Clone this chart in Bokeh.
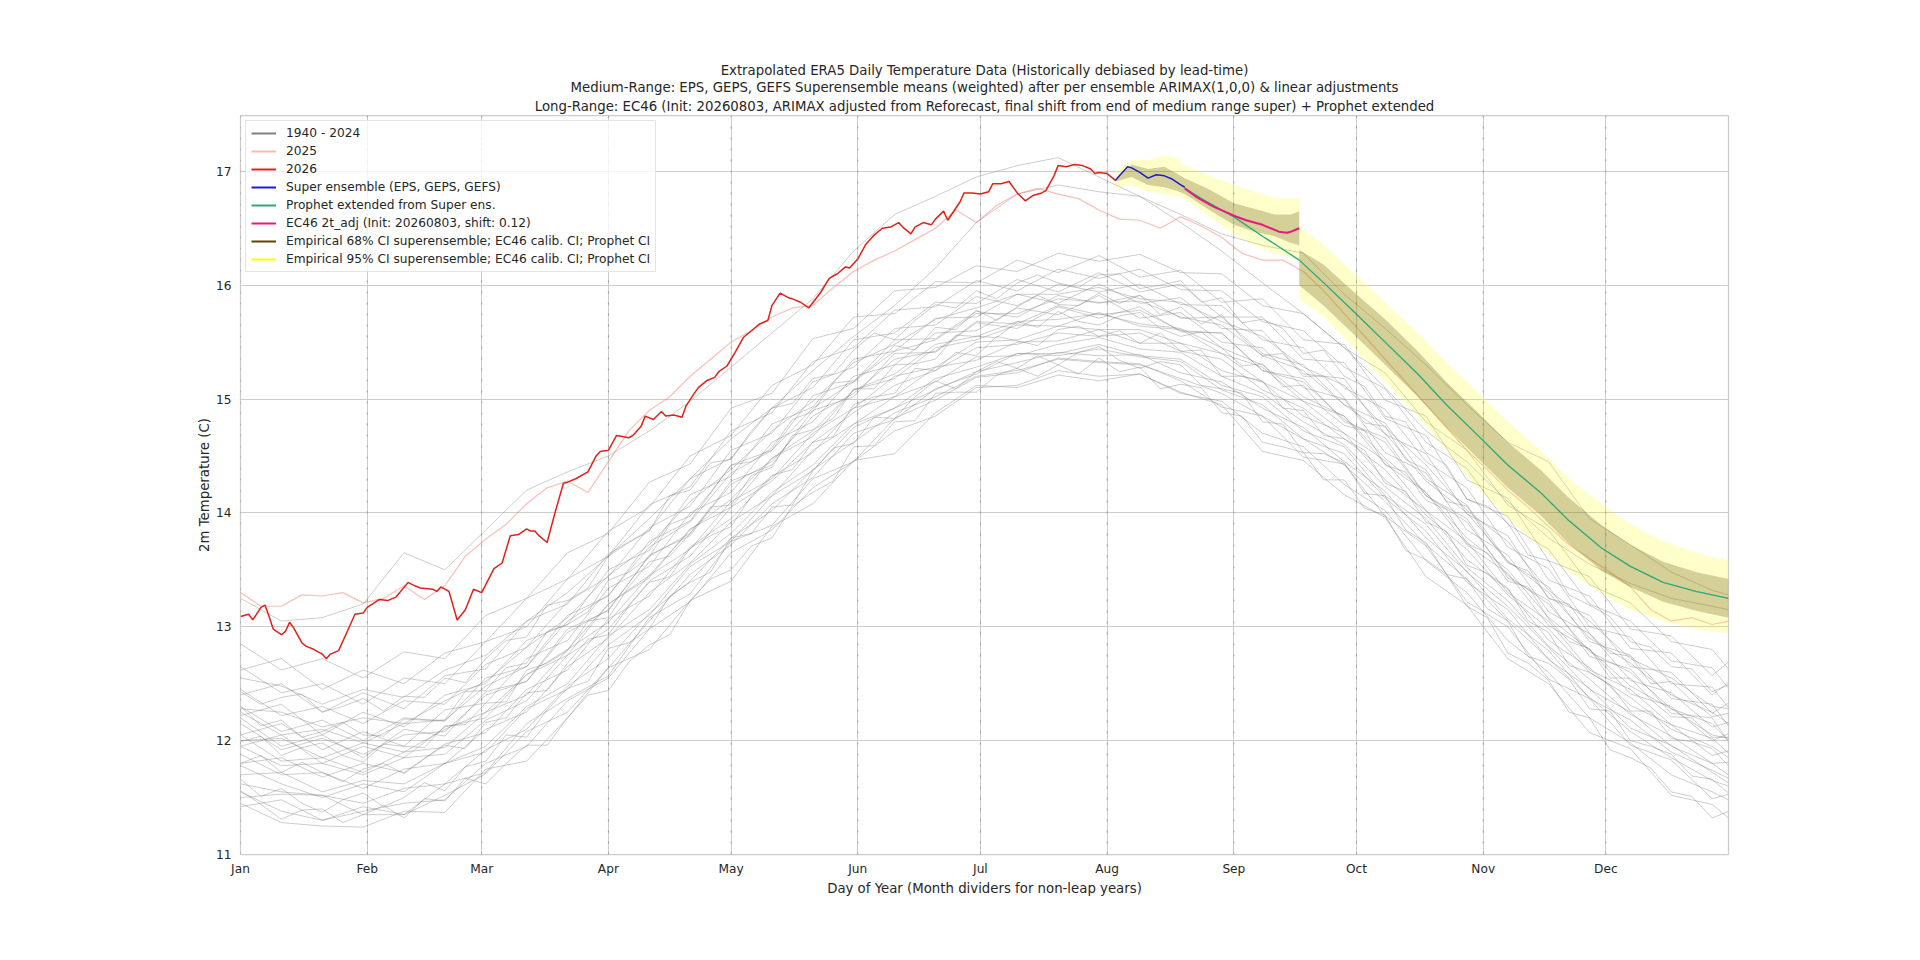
from bokeh.plotting import figure
from bokeh.models import Range1d, FixedTicker, Title, Legend, LegendItem, Span
from bokeh.embed import file_html
from bokeh.resources import INLINE

FONT = "DejaVu Sans"
FS = "12.2px"
FS_BIG = "13.3px"
TXT = "#262626"

TITLE_LINES = [
    "Extrapolated ERA5 Daily Temperature Data (Historically debiased by lead-time)",
    "Medium-Range: EPS, GEPS, GEFS Superensemble means (weighted) after per ensemble ARIMAX(1,0,0) & linear adjustments",
    "Long-Range: EC46 (Init: 20260803, ARIMAX adjusted from Reforecast, final shift from end of medium range super) + Prophet extended",
]
X_LABEL = "Day of Year (Month dividers for non-leap years)"
Y_LABEL = "2m Temperature (C)"

MONTH_DAYS = [0, 31, 59, 90, 120, 151, 181, 212, 243, 273, 304, 334]
MONTH_LABELS = ["Jan", "Feb", "Mar", "Apr", "May", "Jun", "Jul", "Aug", "Sep", "Oct", "Nov", "Dec"]
Y_TICKS = [11, 12, 13, 14, 15, 16, 17]

# ---- historical years 1940-2024 (a readable subset) ----
GREY_DAYS = [0, 10, 20, 30, 40, 50, 60, 70, 80, 90, 100, 110, 120, 130, 140, 150, 160, 170, 180,
             190, 200, 210, 220, 230, 240, 250, 260, 270, 280, 290, 300, 310, 320, 330, 340, 350, 360, 364]
HIST_01 = [11.45,11.28,11.25,11.24,11.38,11.37,11.75,11.82,12.20,12.64,12.80,13.23,13.40,13.88,14.08,14.46,14.52,14.88,15.12,15.10,15.21,15.16,15.22,15.06,14.95,14.54,14.46,14.16,13.96,13.44,13.19,12.72,12.50,12.07,11.93,11.52,11.44,11.32]
HIST_02 = [11.50,11.53,11.52,11.35,11.35,11.62,11.72,12.15,12.37,12.57,13.08,13.29,13.75,13.89,14.30,14.45,14.83,14.99,15.19,15.23,15.36,15.33,15.31,15.16,14.93,14.85,14.49,14.43,13.97,13.71,13.22,13.00,12.54,12.37,11.96,11.83,11.49,11.53]
HIST_03 = [11.55,11.38,11.30,11.42,11.35,11.52,11.71,12.08,12.25,12.64,13.05,13.46,13.72,14.08,14.31,14.70,14.82,15.09,15.22,15.40,15.38,15.44,15.37,15.33,15.08,14.95,14.65,14.52,14.13,13.84,13.39,13.15,12.71,12.46,12.11,11.96,11.72,11.63]
HIST_04 = [11.78,11.62,11.50,11.62,11.55,11.80,11.90,12.28,12.45,12.84,13.10,13.53,13.75,14.15,14.37,14.75,14.92,15.08,15.24,15.32,15.41,15.38,15.39,15.23,15.15,14.92,14.75,14.45,14.19,13.78,13.49,13.07,12.79,12.37,12.18,11.90,11.74,11.67]
HIST_05 = [11.88,11.70,11.72,11.58,11.75,11.80,12.10,12.25,12.65,12.90,13.30,13.56,13.92,14.15,14.55,14.78,15.02,15.15,15.37,15.38,15.48,15.54,15.44,15.41,15.20,15.05,14.80,14.60,14.23,13.95,13.52,13.23,12.83,12.54,12.23,12.04,11.80,11.81]
HIST_06 = [11.80,11.85,11.68,11.80,11.72,11.97,12.07,12.45,12.62,13.07,13.27,13.70,13.95,14.32,14.53,14.92,15.02,15.28,15.34,15.50,15.51,15.61,15.49,15.49,15.25,15.15,14.85,14.70,14.29,14.02,13.59,13.33,12.88,12.64,12.31,12.14,11.87,11.91]
HIST_07 = [12.05,11.82,11.85,11.72,11.90,11.94,12.25,12.40,12.80,13.04,13.45,13.68,14.10,14.30,14.70,14.92,15.20,15.28,15.50,15.52,15.64,15.61,15.61,15.49,15.40,15.15,14.98,14.70,14.46,14.02,13.75,13.30,13.05,12.62,12.45,12.14,12.02,11.89]
HIST_08 = [11.95,12.05,11.80,11.95,11.85,12.12,12.20,12.58,12.75,13.20,13.43,13.86,14.05,14.48,14.67,15.08,15.18,15.45,15.52,15.65,15.64,15.76,15.64,15.61,15.40,15.28,14.98,14.85,14.43,14.18,13.72,13.47,13.01,12.80,12.41,12.30,12.00,12.06]
HIST_09 = [12.20,11.95,12.05,11.85,12.10,12.04,12.43,12.52,12.98,13.14,13.63,13.80,14.28,14.42,14.90,15.02,15.40,15.41,15.67,15.62,15.81,15.71,15.81,15.59,15.58,15.25,15.18,14.80,14.66,14.15,13.95,13.43,13.23,12.74,12.63,12.24,12.20,11.99]
HIST_10 = [12.05,12.15,11.92,12.08,11.95,12.27,12.33,12.72,12.88,13.34,13.53,14.00,14.18,14.62,14.80,15.20,15.30,15.58,15.60,15.80,15.74,15.91,15.71,15.76,15.50,15.45,15.10,15.00,14.53,14.35,13.85,13.63,13.13,12.94,12.53,12.42,12.12,12.16]
HIST_11 = [12.30,12.08,12.18,12.00,12.20,12.17,12.55,12.65,13.10,13.27,13.75,13.93,14.42,14.55,15.03,15.15,15.52,15.53,15.77,15.72,15.91,15.84,15.91,15.71,15.72,15.40,15.30,14.95,14.79,14.30,14.07,13.57,13.35,12.87,12.75,12.37,12.32,12.13]
HIST_12 = [12.22,12.32,12.05,12.25,12.12,12.40,12.50,12.88,13.02,13.50,13.67,14.16,14.32,14.78,14.93,15.35,15.42,15.71,15.72,15.92,15.84,16.01,15.84,15.89,15.62,15.60,15.22,15.18,14.69,14.52,13.99,13.80,13.25,13.10,12.65,12.60,12.24,12.33]
HIST_13 = [12.45,12.22,12.30,12.15,12.35,12.32,12.67,12.82,13.22,13.44,13.87,14.06,14.55,14.70,15.15,15.28,15.62,15.65,15.90,15.82,16.01,15.94,16.01,15.83,15.82,15.52,15.45,15.10,14.91,14.45,14.22,13.70,13.51,13.00,12.91,12.50,12.47,12.29]
HIST_14 = [12.40,12.50,12.25,12.42,12.28,12.57,12.63,13.05,13.20,13.64,13.85,14.30,14.48,14.92,15.10,15.52,15.58,15.85,15.84,16.05,15.94,16.11,15.94,16.01,15.72,15.72,15.35,15.32,14.83,14.68,14.12,13.97,13.41,13.27,12.81,12.77,12.40,12.51]
HIST_15 = [12.65,12.42,12.50,12.32,12.55,12.50,12.87,13.00,13.42,13.62,14.07,14.23,14.72,14.88,15.33,15.45,15.78,15.81,16.04,15.95,16.14,16.06,16.14,15.96,15.95,15.68,15.60,15.28,15.09,14.62,14.39,13.90,13.68,13.20,13.05,12.70,12.64,12.46]
HIST_16 = [12.62,12.72,12.45,12.62,12.50,12.77,12.87,13.25,13.42,13.84,14.05,14.50,14.68,15.12,15.30,15.72,15.75,16.03,16.02,16.22,16.11,16.26,16.07,16.13,15.85,15.88,15.52,15.48,14.99,14.85,14.29,14.13,13.58,13.44,12.98,12.92,12.57,12.69]
HIST_17 = [12.85,12.62,12.72,12.55,12.78,12.72,13.10,13.25,13.65,13.82,14.27,14.43,14.92,15.05,15.53,15.62,15.95,15.98,16.17,16.12,16.28,16.21,16.27,16.11,16.10,15.82,15.75,15.45,15.23,14.80,14.55,14.07,13.85,13.37,13.21,12.87,12.80,12.63]
HIST_18 = [11.42,11.48,11.30,11.38,11.45,11.48,11.80,11.95,12.35,12.55,12.98,13.22,13.65,13.85,14.22,14.45,14.72,14.85,15.10,15.12,15.25,15.20,15.22,15.05,14.98,14.70,14.58,14.25,14.02,13.58,13.30,12.88,12.60,12.20,11.98,11.70,11.55,11.48]
HIST_19 = [11.70,11.72,11.55,11.65,11.62,11.80,11.95,12.30,12.50,12.92,13.15,13.55,13.82,14.18,14.42,14.78,14.92,15.18,15.28,15.40,15.40,15.48,15.38,15.35,15.12,15.02,14.72,14.58,14.15,13.90,13.48,13.18,12.82,12.45,12.25,11.95,11.80,11.70]
HIST_20 = [11.95,11.78,11.80,11.70,11.85,11.88,12.18,12.35,12.75,12.98,13.40,13.62,14.05,14.28,14.62,14.88,15.12,15.25,15.45,15.48,15.58,15.55,15.58,15.42,15.35,15.08,14.92,14.65,14.38,13.98,13.68,13.28,12.98,12.60,12.38,12.10,11.95,11.85]
HIST_21 = [12.00,12.02,11.85,11.98,11.90,12.10,12.25,12.58,12.80,13.20,13.45,13.85,14.12,14.48,14.72,15.08,15.22,15.48,15.55,15.68,15.70,15.75,15.66,15.62,15.45,15.30,15.02,14.85,14.48,14.18,13.78,13.50,13.08,12.80,12.48,12.28,12.05,12.02]
HIST_22 = [12.25,12.05,12.10,11.98,12.15,12.18,12.48,12.65,13.05,13.28,13.70,13.92,14.35,14.55,14.92,15.15,15.42,15.52,15.75,15.75,15.88,15.85,15.86,15.72,15.65,15.38,15.25,14.95,14.70,14.28,14.00,13.58,13.30,12.90,12.68,12.40,12.25,12.15]
HIST_23 = [12.28,12.25,12.12,12.20,12.15,12.35,12.52,12.82,13.08,13.45,13.72,14.10,14.38,14.72,14.98,15.32,15.48,15.70,15.80,15.92,15.92,15.98,15.88,15.85,15.68,15.55,15.28,15.12,14.75,14.42,14.02,13.75,13.32,13.05,12.72,12.55,12.30,12.28]
HIST_24 = [11.62,11.55,11.52,11.45,11.58,11.62,11.92,12.10,12.48,12.72,13.12,13.40,13.78,14.02,14.38,14.62,14.88,15.02,15.20,15.25,15.35,15.32,15.30,15.18,15.05,14.85,14.65,14.42,14.10,13.72,13.42,13.05,12.72,12.38,12.08,11.85,11.65,11.60]
HIST_25 = [12.15,11.92,12.02,11.88,12.05,12.08,12.40,12.52,12.95,13.15,13.62,13.82,14.25,14.45,14.85,15.05,15.35,15.42,15.68,15.66,15.82,15.74,15.78,15.60,15.58,15.25,15.15,14.82,14.62,14.15,13.92,13.45,13.20,12.78,12.60,12.28,12.15,12.00]
HIST_2023 = [12.55,12.48,12.32,12.45,12.38,12.62,12.75,13.05,13.30,13.62,13.95,14.30,14.65,14.92,15.25,15.55,15.82,16.15,16.55,16.80,16.88,16.82,16.78,16.62,16.45,16.35,16.28,15.92,15.62,15.30,14.95,14.62,14.45,13.95,13.72,13.48,13.32,13.28]
HIST_2024 = [13.25,13.05,13.08,13.20,13.65,13.50,13.85,14.20,14.36,14.50,14.72,14.98,15.28,15.58,15.88,16.30,16.62,16.78,16.95,17.05,17.12,16.95,16.78,16.55,16.30,16.02,15.75,15.45,15.10,14.72,14.45,14.10,13.78,13.55,13.38,13.25,13.18,13.15]

GREY5_DAYS = [0,5,10,15,20,25,30,35,40,45,50,55,60,65,70,75,80,85,90,95,100,105,110,115,120,125,130,135,140,145,150,155,160,165,170,175,180,185,190,195,200,205,210,215,220,225,230,235,240,245,250,255,260,265,270,275,280,285,290,295,300,305,310,315,320,325,330,335,340,345,350,355,360,364]
HIST_J1 = [11.66,11.51,11.58,11.45,11.37,11.48,11.54,11.42,11.50,11.63,11.56,11.77,11.82,12.05,12.03,12.27,12.46,12.52,12.81,12.86,12.98,13.27,13.39,13.48,13.78,13.82,14.05,14.07,14.37,14.57,14.61,14.84,14.83,15.02,15.16,15.09,15.24,15.33,15.27,15.38,15.30,15.41,15.46,15.34,15.27,15.33,15.30,15.12,15.09,15.05,14.80,14.78,14.53,14.52,14.44,14.17,14.15,13.85,13.74,13.46,13.42,13.16,13.05,12.74,12.68,12.54,12.28,12.26,12.00,11.95,11.88,11.69,11.66,11.54]
HIST_J2 = [11.80,11.87,11.72,11.81,11.72,11.64,11.75,11.80,11.71,11.84,11.96,11.93,12.16,12.20,12.42,12.44,12.68,12.89,12.93,13.18,13.39,13.44,13.69,13.80,13.88,14.15,14.33,14.38,14.62,14.67,14.95,15.02,15.05,15.27,15.25,15.41,15.38,15.55,15.51,15.47,15.61,15.64,15.55,15.60,15.49,15.58,15.42,15.43,15.20,15.20,15.16,14.92,14.90,14.68,14.65,14.55,14.26,14.19,13.92,13.84,13.54,13.47,13.34,13.05,12.95,12.66,12.60,12.49,12.26,12.26,12.02,11.99,11.93,11.78]
HIST_J3 = [11.99,12.04,11.87,11.94,11.98,11.87,11.81,11.97,11.95,11.94,12.13,12.14,12.33,12.34,12.62,12.68,12.79,13.05,13.08,13.35,13.57,13.62,13.82,14.05,14.07,14.33,14.40,14.68,14.73,14.83,15.09,15.09,15.30,15.31,15.35,15.56,15.55,15.54,15.68,15.63,15.77,15.68,15.65,15.73,15.76,15.62,15.55,15.59,15.45,15.29,15.31,15.11,15.12,14.91,14.77,14.72,14.42,14.36,14.11,14.03,13.73,13.65,13.40,13.35,13.07,12.87,12.81,12.55,12.55,12.36,12.21,12.20,12.03,12.03]
HIST_J4 = [12.30,12.13,12.18,12.03,12.08,12.16,12.05,12.04,12.19,12.18,12.18,12.43,12.44,12.64,12.68,12.96,13.02,13.13,13.41,13.48,13.61,13.90,13.97,14.18,14.42,14.45,14.57,14.82,14.89,15.14,15.16,15.30,15.47,15.43,15.63,15.61,15.78,15.69,15.81,15.91,15.83,15.82,15.93,15.84,15.91,15.74,15.81,15.66,15.74,15.54,15.38,15.40,15.20,15.20,15.01,14.79,14.76,14.47,14.38,14.10,14.06,13.79,13.56,13.49,13.25,13.20,12.94,12.77,12.74,12.50,12.52,12.35,12.21,12.24]
HIST_J5 = [12.43,12.32,12.38,12.41,12.25,12.30,12.37,12.26,12.39,12.38,12.55,12.51,12.72,12.88,12.91,13.19,13.23,13.34,13.62,13.74,13.84,14.15,14.20,14.44,14.47,14.72,14.92,14.96,15.18,15.22,15.43,15.58,15.52,15.69,15.83,15.80,15.95,15.88,16.02,16.09,16.02,15.98,16.09,16.10,15.97,16.00,16.04,15.85,15.89,15.67,15.70,15.62,15.40,15.43,15.20,15.11,14.85,14.80,14.53,14.42,14.12,14.06,13.91,13.63,13.58,13.28,13.19,13.09,12.87,12.82,12.65,12.63,12.43,12.49]
HIST_J6 = [11.56,11.44,11.31,11.39,11.40,11.28,11.35,11.43,11.32,11.49,11.47,11.67,11.62,11.80,11.96,11.96,12.20,12.40,12.44,12.69,12.84,12.93,13.23,13.42,13.50,13.71,13.78,14.06,14.18,14.28,14.58,14.59,14.80,14.81,15.05,15.06,15.06,15.21,15.27,15.20,15.30,15.22,15.36,15.24,15.28,15.09,15.13,15.10,14.88,14.85,14.62,14.58,14.53,14.29,14.29,14.04,13.98,13.67,13.59,13.46,13.18,13.08,12.77,12.68,12.53,12.25,12.20,11.92,11.85,11.76,11.55,11.51,11.32,11.38]

# ---- 2025 ----
Y2025_DAYS = [0,5,10,15,20,25,30,35,40,45,50,55,60,65,70,75,80,85,90,95,100,105,110,115,120,125,130,135,140,145,150,155,160,165,170,175,180,185,190,195,200,205,210,215,220,225,230,235,240,245,250,255,260,265,270,275,280,285,290,295,300,305,310,315,320,325,330,335,340,345,350,355,360,364]
Y2025 = [13.30,13.18,13.18,13.28,13.27,13.30,13.21,13.25,13.36,13.24,13.36,13.62,13.77,13.90,14.08,14.22,14.28,14.18,14.45,14.72,14.90,15.02,15.20,15.35,15.50,15.60,15.72,15.80,15.82,15.98,16.12,16.22,16.30,16.40,16.50,16.66,16.55,16.70,16.80,16.85,16.80,16.76,16.66,16.58,16.57,16.50,16.60,16.52,16.42,16.28,16.22,16.22,16.12,15.95,15.75,15.55,15.35,15.15,14.95,14.75,14.55,14.38,14.20,14.05,13.88,13.72,13.60,13.48,13.35,13.15,13.05,13.08,13.02,13.05]

# ---- 2026 observed ----
Y2026_DAYS = [0,2,3,5,6,7,8,10,11,12,13,15,16,18,20,21,22,24,26,28,30,31,34,36,38,41,42,44,47,48,49,51,53,55,57,59,60,62,64,66,68,70,71,72,73,75,77,79,80,82,85,87,88,90,92,95,96,98,99,101,103,104,106,108,109,111,112,114,116,117,119,121,123,126,127,129,130,132,134,135,137,139,142,144,146,148,149,151,153,155,157,159,161,162,164,165,167,169,170,172,173,176,177,179,181,183,184,186,188,190,192,194,196,197,199,200,202,204,206,208,209,210,212,214]
Y2026 = [13.09,13.11,13.06,13.17,13.19,13.09,12.98,12.93,12.96,13.04,12.99,12.86,12.83,12.80,12.76,12.72,12.76,12.79,12.95,13.11,13.12,13.17,13.24,13.23,13.26,13.39,13.37,13.34,13.33,13.31,13.35,13.31,13.06,13.15,13.33,13.30,13.37,13.51,13.56,13.80,13.81,13.86,13.84,13.84,13.80,13.74,14.01,14.26,14.27,14.30,14.36,14.50,14.54,14.55,14.68,14.66,14.68,14.76,14.85,14.82,14.89,14.85,14.86,14.84,14.94,15.05,15.10,15.16,15.19,15.24,15.29,15.41,15.54,15.63,15.66,15.69,15.82,15.93,15.89,15.88,15.85,15.80,15.94,16.06,16.10,16.16,16.15,16.23,16.36,16.44,16.50,16.51,16.55,16.51,16.45,16.51,16.55,16.53,16.58,16.65,16.57,16.73,16.81,16.81,16.80,16.82,16.89,16.89,16.91,16.81,16.74,16.79,16.81,16.83,16.96,17.05,17.04,17.06,17.05,17.02,16.98,16.99,16.98,16.92]

# ---- forecasts ----
SUPER_DAYS = [214,215,217,218,220,222,224,226,228,230,231]
SUPER = [16.92,16.96,17.04,17.03,16.99,16.94,16.97,16.96,16.93,16.88,16.86]
EC46_DAYS = [231,234,238,243,246,250,254,256,257,259]
EC46 = [16.85,16.77,16.69,16.61,16.57,16.53,16.47,16.46,16.47,16.50]
PROPHET_DAYS = [231,236,243,250,259,265,272,280,288,295,303,310,318,325,333,340,348,356,364]
PROPHET = [16.85,16.74,16.60,16.43,16.22,16.02,15.78,15.50,15.22,14.95,14.67,14.42,14.18,13.93,13.69,13.53,13.39,13.31,13.25]

CI_DAYS = [214,218,222,226,229,231,237,243,248,253,257,259,259,265,272,280,288,295,303,310,318,325,333,340,348,356,364]
CI68_LO = [16.91,16.95,16.88,16.86,16.83,16.80,16.66,16.53,16.47,16.43,16.37,16.35,16.00,15.82,15.58,15.30,15.02,14.75,14.47,14.22,13.98,13.73,13.49,13.35,13.22,13.14,13.08]
CI68_HI = [16.93,17.06,17.02,17.04,16.98,16.94,16.84,16.72,16.67,16.62,16.62,16.65,16.31,16.18,15.95,15.70,15.42,15.15,14.87,14.62,14.38,14.13,13.89,13.72,13.57,13.48,13.42]
CI95_LO = [16.85,16.88,16.82,16.80,16.78,16.76,16.60,16.45,16.35,16.28,16.24,16.22,15.88,15.72,15.46,15.15,14.85,14.55,14.20,13.95,13.70,13.48,13.29,13.15,13.05,12.98,12.94]
CI95_HI = [17.00,17.10,17.10,17.14,17.12,17.05,16.96,16.88,16.82,16.77,16.76,16.77,16.52,16.35,16.12,15.85,15.58,15.32,15.05,14.80,14.55,14.30,14.08,13.90,13.75,13.65,13.58]

# ---- colours ----
C_GREY = "#808080"
C_2025 = "#fa8072"
C_2026 = "#e0221b"
C_SUPER = "#1c1cc8"
C_PROPHET = "#2aa87a"
C_EC46 = "#e8187f"
C_68 = "#5a4800"
C_95 = "#ffff00"

p = figure(width=1904, height=944, output_backend="svg", toolbar_location=None,
           x_range=Range1d(0, 364), y_range=Range1d(11, 17.49),
           min_border_left=240, min_border_right=176, min_border_top=115, min_border_bottom=90,
           background_fill_color="white", border_fill_color="white")

p.outline_line_color = "#cccccc"
p.outline_line_width = 1.25

p.xgrid.grid_line_color = "#cccccc"
p.ygrid.grid_line_color = "#cccccc"
p.xgrid.grid_line_width = 1
p.ygrid.grid_line_width = 1

for d in MONTH_DAYS:
    p.add_layout(Span(location=d, dimension="height", line_color="#707070",
                      line_alpha=0.55, line_dash="2 9", line_width=1))

# historical years
for ys in [HIST_01, HIST_02, HIST_03, HIST_04, HIST_05, HIST_06, HIST_07, HIST_08, HIST_09,
           HIST_10, HIST_11, HIST_12, HIST_13, HIST_14, HIST_15, HIST_16, HIST_17, HIST_18,
           HIST_19, HIST_20, HIST_21, HIST_22, HIST_23, HIST_24, HIST_25,
           HIST_2023, HIST_2024]:
    p.line(GREY_DAYS, ys, line_color=C_GREY, line_alpha=0.44, line_width=0.9)
for ys in [HIST_J1, HIST_J2, HIST_J3, HIST_J4, HIST_J5, HIST_J6]:
    p.line(GREY5_DAYS, ys, line_color=C_GREY, line_alpha=0.44, line_width=0.9)

p.line(Y2025_DAYS, Y2025, line_color=C_2025, line_alpha=0.5, line_width=1.2)

# confidence bands
p.varea(x=CI_DAYS, y1=CI95_LO, y2=CI95_HI, fill_color=C_95, fill_alpha=0.2)
p.varea(x=CI_DAYS, y1=CI68_LO, y2=CI68_HI, fill_color=C_68, fill_alpha=0.26)

p.line(Y2026_DAYS, Y2026, line_color=C_2026, line_width=1.5)
p.line(SUPER_DAYS, SUPER, line_color=C_SUPER, line_width=1.5)
p.line(PROPHET_DAYS, PROPHET, line_color=C_PROPHET, line_width=1.3)
p.line(EC46_DAYS, EC46, line_color=C_EC46, line_width=2)

# axes
p.xaxis.ticker = FixedTicker(ticks=MONTH_DAYS)
p.xaxis.major_label_overrides = {d: m for d, m in zip(MONTH_DAYS, MONTH_LABELS)}
p.yaxis.ticker = FixedTicker(ticks=Y_TICKS)
for ax in [p.xaxis[0], p.yaxis[0]]:
    ax.axis_line_color = None
    ax.major_tick_line_color = None
    ax.minor_tick_line_color = None
    ax.major_label_text_font = FONT
    ax.major_label_text_font_size = FS
    ax.major_label_text_color = TXT
    ax.axis_label_text_font = FONT
    ax.axis_label_text_font_size = FS_BIG
    ax.axis_label_text_font_style = "normal"
    ax.axis_label_text_color = TXT
p.xaxis.axis_label = X_LABEL
p.yaxis.axis_label = Y_LABEL
p.xaxis.major_label_standoff = 1
p.yaxis.major_label_standoff = 3
p.xaxis.axis_label_standoff = 2
p.yaxis.axis_label_standoff = 1

# title: three centred lines, bottom line added first
for i, t in enumerate(reversed(TITLE_LINES)):
    p.add_layout(Title(text=t, align="center", text_font=FONT, text_font_size=FS_BIG,
                       text_font_style="normal", text_color=TXT, text_line_height=0.92,
                       standoff=4 if i == 0 else 0, offset=0), "above")

# legend (proxy lines drawn outside the visible range)
LEGEND_LABELS = ["1940 - 2024", "2025", "2026", "Super ensemble (EPS, GEPS, GEFS)",
                 "Prophet extended from Super ens.", "EC46 2t_adj (Init: 20260803, shift: 0.12)",
                 "Empirical 68% CI superensemble; EC46 calib. CI; Prophet CI",
                 "Empirical 95% CI superensemble; EC46 calib. CI; Prophet CI"]
LEGEND_COLORS = [C_GREY, "#f9bca8", C_2026, C_SUPER, C_PROPHET, C_EC46, C_68, C_95]
items = []
for lab, col in zip(LEGEND_LABELS, LEGEND_COLORS):
    r = p.line([-50, -40], [0, 0], line_color=col, line_width=2)
    items.append(LegendItem(label=lab, renderers=[r]))
legend = Legend(items=items, location="top_left", margin=5, padding=5,
                glyph_width=25, glyph_height=14, label_height=14, spacing=4,
                label_standoff=10, label_text_font=FONT, label_text_font_size=FS,
                label_text_color=TXT, border_line_color="#cccccc", border_line_width=1,
                background_fill_color="white", background_fill_alpha=0.8)
p.add_layout(legend)

open("out.html", "w").write(file_html(p, INLINE))
